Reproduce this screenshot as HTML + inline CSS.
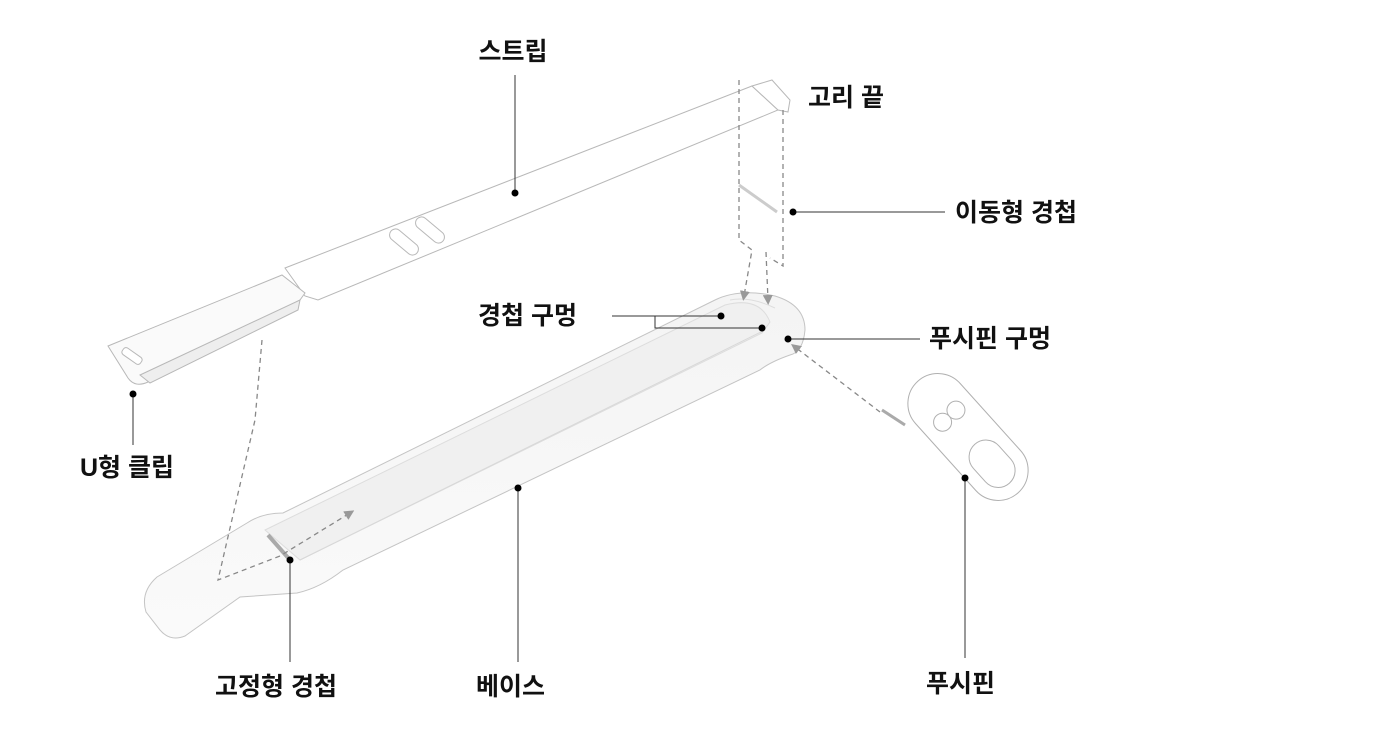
<!DOCTYPE html>
<html><head><meta charset="utf-8"><style>
html,body{margin:0;padding:0;background:#fff;}
body{width:1388px;height:734px;overflow:hidden;}
text{font-family:"Liberation Sans","Noto Sans CJK KR",sans-serif;font-size:25px;fill:#111;font-weight:bold;}
</style></head><body>
<svg width="1388" height="734" viewBox="0 0 1388 734" xmlns="http://www.w3.org/2000/svg">
<defs>
<marker id="ar" markerWidth="10" markerHeight="10" refX="5" refY="5" orient="auto" markerUnits="userSpaceOnUse"><path d="M0,0 L10,5 L0,10 Z" fill="#999"/></marker>
<linearGradient id="bg1" x1="0" y1="0" x2="0" y2="1"><stop offset="0" stop-color="#f4f4f4"/><stop offset="1" stop-color="#fafafa"/></linearGradient>
</defs>

<!-- Strap -->
<g fill="#fff" stroke="#b8b8b8" stroke-width="1">
<polygon points="285,268 752,86 778,110 318,300 305,296"/>
<polygon points="752,86 772,80 790,100 788,112 778,110"/>
<path d="M108,346 L282,275 L305,293 L300,300 L148,382 Q135,388 128,378 Z" fill="#fafafa"/>
<path d="M140,375 L300,300 L298,310 L150,383 Z" fill="#eee"/>
<rect x="398" y="225" width="12" height="34" rx="6" transform="rotate(-50 404 242)"/>
<rect x="424" y="213" width="12" height="34" rx="6" transform="rotate(-50 430 230)"/>
<rect x="128" y="345" width="8" height="22" rx="3" transform="rotate(-55 132 356)"/>
<line x1="739" y1="185" x2="777" y2="212" stroke-width="3" stroke="#ccc"/>
</g>

<!-- Base -->
<path d="M157,577 L247,523 Q262,513 283,513 L715,300 Q740,288 775,296 Q805,305 805,330 Q803,352 790,355 Q770,362 760,370 L343,570 Q320,588 297,593 L240,597 L185,636 Q170,642 160,630 L146,612 Q140,592 157,577 Z" fill="url(#bg1)" stroke="#c4c4c4" stroke-width="1"/>
<path d="M265,530 L725,305 Q760,296 770,322 L762,333 L300,560 Z" fill="#f0f0f0" stroke="#ddd" stroke-width="1"/>
<path d="M300,560 L765,330" stroke="#d8d8d8" fill="none"/>
<path d="M730,300 Q750,296 775,308" stroke="#ddd" fill="none"/>
<line x1="268" y1="535" x2="290" y2="560" stroke="#aaa" stroke-width="4"/>

<!-- Push pin -->
<g transform="rotate(48 968 437)" fill="#fff" stroke="#b0b0b0">
<rect x="893" y="407" width="150" height="60" rx="30"/>
<rect x="978" y="420" width="52" height="34" rx="17"/>
<ellipse cx="940" cy="428" rx="9" ry="9"/>
<ellipse cx="940" cy="446" rx="9" ry="9"/>
</g>
<line x1="882" y1="410" x2="905" y2="425" stroke="#aaa" stroke-width="3"/>

<!-- dashed guides -->
<g stroke="#888" stroke-width="1.3" stroke-dasharray="5,4" fill="none">
<polyline points="739,80 739,240 752,250 744,296" marker-end="url(#ar)"/>
<polyline points="766,252 768,300" marker-end="url(#ar)"/>
<polyline points="783,110 783,266 770,258"/>
<line x1="880" y1="412" x2="795" y2="347" marker-end="url(#ar)"/>
<polyline points="262,340 255,420 218,580 280,556 350,513" marker-end="url(#ar)"/>
</g>

<!-- leader lines -->
<g stroke="#333" stroke-width="1" fill="none">
<line x1="515" y1="75" x2="515" y2="192"/>
<line x1="793" y1="212" x2="945" y2="212"/>
<polyline points="612,316 720,316"/>
<polyline points="655,316 655,328 762,328"/>
<line x1="788" y1="339" x2="920" y2="339"/>
<line x1="133" y1="394" x2="133" y2="445"/>
<line x1="290" y1="560" x2="290" y2="662"/>
<line x1="518" y1="488" x2="518" y2="662"/>
<line x1="965" y1="478" x2="965" y2="658"/>
</g>
<g fill="#000">
<circle cx="515" cy="193" r="3.5"/><circle cx="793" cy="212" r="3.5"/>
<circle cx="721" cy="316" r="3.5"/><circle cx="762" cy="328" r="3.5"/>
<circle cx="788" cy="339" r="3.5"/><circle cx="133" cy="394" r="3.5"/>
<circle cx="290" cy="560" r="3.5"/><circle cx="518" cy="488" r="3.5"/>
<circle cx="965" cy="478" r="3.5"/>
</g>

<text x="513" y="60" text-anchor="middle">스트립</text>
<text x="808" y="106">고리 끝</text>
<text x="955" y="221">이동형 경첩</text>
<text x="478" y="324">경첩 구멍</text>
<text x="929" y="347">푸시핀 구멍</text>
<text x="80" y="476">U형 클립</text>
<text x="215" y="695">고정형 경첩</text>
<text x="476" y="695">베이스</text>
<text x="926" y="692">푸시핀</text>
</svg>
</body></html>
